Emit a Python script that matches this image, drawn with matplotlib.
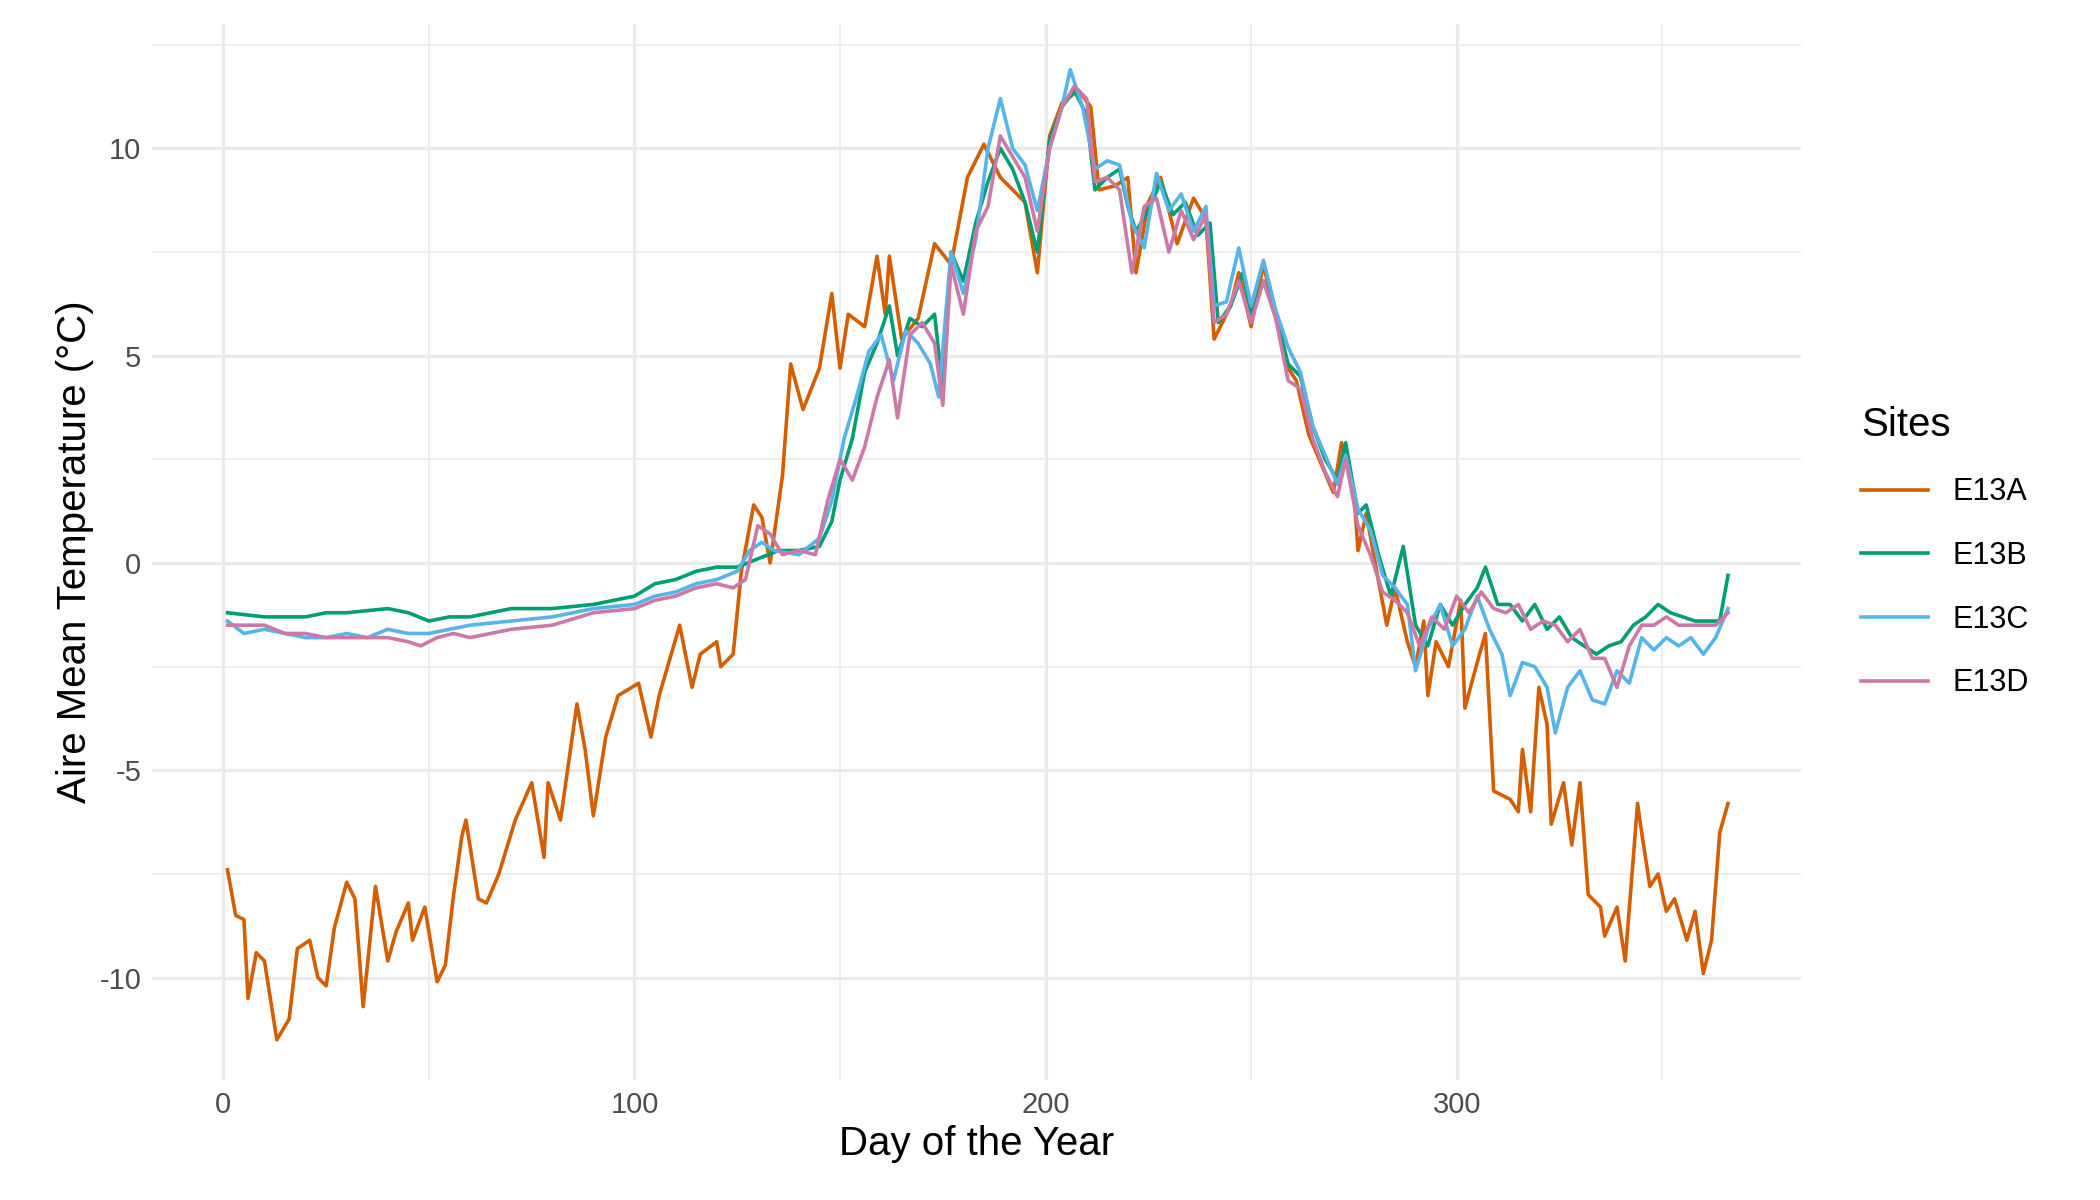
import matplotlib.pyplot as plt
from matplotlib.ticker import MultipleLocator

plt.rcParams['font.family'] = ['Liberation Sans', 'DejaVu Sans']

# data (day of year, mean air temperature)
a_day = [1, 3, 5, 6, 8, 10, 13, 16, 18, 21, 23, 25, 27, 30, 32, 34, 37, 40, 42, 45, 46, 49, 52, 54, 56, 58, 59, 62, 64, 67, 71, 75,
         78, 79, 82, 86, 88, 90, 93, 96, 101, 104, 106, 111, 114, 116, 120, 121, 124, 126, 129, 131, 133, 136, 138, 141, 143,
         145, 148, 150, 152, 156, 159, 161, 162, 165, 169, 173, 177, 181, 185, 189, 195, 198, 201, 204, 208, 211, 213, 217,
         220, 222, 225, 228, 232, 236, 239, 241, 245, 247, 250, 253, 256, 259, 261, 264, 267, 270, 272, 275, 276, 278, 280,
         283, 285, 288, 290, 292, 293, 295, 298, 301, 302, 305, 307, 309, 313, 315, 316, 318, 320, 322, 323, 326, 328, 330,
         332, 335, 336, 339, 341, 344, 345, 347, 349, 351, 353, 356, 358, 360, 362, 364, 366]
a_val = [-7.4, -8.5, -8.6, -10.5, -9.4, -9.6, -11.5, -11.0, -9.3, -9.1, -10.0, -10.2, -8.8, -7.7, -8.1, -10.7, -7.8, -9.6, -8.9,
         -8.2, -9.1, -8.3, -10.1, -9.7, -8.0, -6.6, -6.2, -8.1, -8.2, -7.5, -6.2, -5.3, -7.1, -5.3, -6.2, -3.4, -4.5, -6.1,
         -4.2, -3.2, -2.9, -4.2, -3.2, -1.5, -3.0, -2.2, -1.9, -2.5, -2.2, -0.2, 1.4, 1.1, 0.0, 2.1, 4.8, 3.7, 4.2, 4.7, 6.5,
         4.7, 6.0, 5.7, 7.4, 6.0, 7.4, 5.4, 5.9, 7.7, 7.2, 9.3, 10.1, 9.3, 8.7, 7.0, 10.3, 11.1, 11.4, 11.0, 9.0, 9.1, 9.3,
         7.0, 8.7, 9.3, 7.7, 8.8, 8.3, 5.4, 6.2, 7.0, 5.7, 7.2, 5.9, 4.7, 4.4, 3.1, 2.4, 1.7, 2.9, 1.7, 0.3, 1.2, 0.1, -1.5,
         -0.6, -1.9, -2.5, -1.4, -3.2, -1.9, -2.5, -0.9, -3.5, -2.4, -1.7, -5.5, -5.7, -6.0, -4.5, -6.0, -3.0, -3.9, -6.3,
         -5.3, -6.8, -5.3, -8.0, -8.3, -9.0, -8.3, -9.6, -5.8, -6.5, -7.8, -7.5, -8.4, -8.1, -9.1, -8.4, -9.9, -9.1, -6.5, -5.8]

b_day = [1, 10, 20, 25, 30, 40, 45, 50, 55, 60, 65, 70, 80, 90, 100, 105, 110, 115, 120, 125, 130, 135, 140, 145, 148, 150,
         153, 156, 159, 162, 164, 167, 170, 173, 175, 177, 180, 183, 186, 189, 192, 195, 198, 201, 204, 207, 210, 212, 215,
         218, 220, 222, 225, 228, 231, 234, 237, 240, 242, 245, 248, 250, 253, 256, 259, 262, 265, 268, 271, 273, 276, 278,
         281, 284, 287, 290, 293, 296, 299, 302, 305, 307, 310, 313, 316, 319, 322, 325, 328, 331, 334, 337, 340, 343, 346,
         349, 352, 355, 358, 361, 364, 366]
b_val = [-1.2, -1.3, -1.3, -1.2, -1.2, -1.1, -1.2, -1.4, -1.3, -1.3, -1.2, -1.1, -1.1, -1.0, -0.8, -0.5, -0.4, -0.2, -0.1,
         -0.1, 0.1, 0.3, 0.3, 0.4, 1.0, 2.0, 3.0, 4.6, 5.3, 6.2, 5.0, 5.9, 5.7, 6.0, 4.2, 7.5, 6.8, 8.2, 9.2, 10.0, 9.5, 8.7,
         7.5, 10.2, 11.0, 11.4, 10.8, 9.0, 9.3, 9.5, 8.6, 8.0, 8.5, 9.2, 8.4, 8.7, 7.9, 8.2, 5.8, 6.2, 7.0, 6.0, 6.8, 6.0,
         4.8, 4.5, 3.3, 2.5, 2.0, 2.9, 1.2, 1.4, 0.2, -0.8, 0.4, -1.5, -2.0, -1.0, -1.5, -1.0, -0.6, -0.1, -1.0, -1.0, -1.4,
         -1.0, -1.6, -1.3, -1.8, -2.0, -2.2, -2.0, -1.9, -1.5, -1.3, -1.0, -1.2, -1.3, -1.4, -1.4, -1.4, -0.3]

c_day = [1, 5, 10, 15, 20, 25, 30, 35, 40, 45, 50, 55, 60, 70, 80, 90, 100, 105, 110, 115, 120, 125, 128, 131, 134, 140,
         145, 148, 151, 154, 157, 160, 163, 166, 169, 172, 174, 177, 180, 183, 186, 189, 192, 195, 198, 201, 204, 206, 209,
         212, 215, 218, 221, 224, 227, 230, 233, 236, 239, 241, 244, 247, 250, 253, 256, 259, 262, 265, 268, 271, 273, 276,
         279, 282, 285, 288, 290, 293, 296, 299, 302, 305, 308, 311, 313, 316, 319, 322, 324, 327, 330, 333, 336, 339, 342,
         345, 348, 351, 354, 357, 360, 363, 366]
c_val = [-1.4, -1.7, -1.6, -1.7, -1.8, -1.8, -1.7, -1.8, -1.6, -1.7, -1.7, -1.6, -1.5, -1.4, -1.3, -1.1, -1.0, -0.8, -0.7,
         -0.5, -0.4, -0.2, 0.3, 0.5, 0.3, 0.2, 0.6, 1.5, 3.0, 4.0, 5.1, 5.5, 4.4, 5.6, 5.3, 4.8, 4.0, 7.5, 6.5, 7.8, 10.0,
         11.2, 10.0, 9.6, 8.5, 10.0, 11.0, 11.9, 11.0, 9.5, 9.7, 9.6, 8.2, 7.6, 9.4, 8.5, 8.9, 8.0, 8.6, 6.2, 6.3, 7.6, 6.2,
         7.3, 6.1, 5.2, 4.6, 3.3, 2.6, 1.9, 2.6, 1.3, 0.8, -0.3, -0.6, -1.0, -2.6, -1.6, -1.0, -2.0, -1.6, -0.8, -1.6, -2.2,
         -3.2, -2.4, -2.5, -3.0, -4.1, -3.0, -2.6, -3.3, -3.4, -2.6, -2.9, -1.8, -2.1, -1.8, -2.0, -1.8, -2.2, -1.8, -1.1]

d_day = [1, 10, 15, 20, 25, 30, 35, 40, 45, 48, 52, 56, 60, 65, 70, 80, 90, 100, 105, 110, 115, 120, 124, 127, 130, 133,
         136, 140, 144, 147, 150, 153, 156, 159, 162, 164, 167, 170, 173, 175, 177, 180, 183, 186, 189, 192, 195, 198, 201,
         204, 207, 210, 212, 215, 218, 221, 224, 227, 230, 233, 236, 239, 241, 244, 247, 250, 253, 256, 259, 262, 265, 268,
         271, 273, 276, 279, 282, 285, 288, 291, 294, 297, 300, 303, 306, 309, 312, 315, 318, 321, 324, 327, 330, 333, 336,
         339, 342, 345, 348, 351, 354, 357, 360, 363, 366]
d_val = [-1.5, -1.5, -1.7, -1.7, -1.8, -1.8, -1.8, -1.8, -1.9, -2.0, -1.8, -1.7, -1.8, -1.7, -1.6, -1.5, -1.2, -1.1, -0.9,
         -0.8, -0.6, -0.5, -0.6, -0.4, 0.9, 0.7, 0.2, 0.3, 0.2, 1.5, 2.5, 2.0, 2.8, 4.0, 4.9, 3.5, 5.5, 5.8, 5.3, 3.8, 7.2,
         6.0, 8.0, 8.6, 10.3, 9.8, 9.3, 8.0, 10.0, 11.0, 11.5, 11.2, 9.2, 9.3, 9.0, 7.0, 8.6, 8.8, 7.5, 8.5, 7.8, 8.4, 5.8,
         6.0, 6.8, 5.8, 6.8, 5.9, 4.4, 4.2, 3.0, 2.2, 1.6, 2.5, 0.9, 0.2, -0.7, -0.9, -1.2, -2.0, -1.3, -1.6, -0.8, -1.2,
         -0.7, -1.1, -1.2, -1.0, -1.6, -1.4, -1.5, -1.9, -1.6, -2.3, -2.3, -3.0, -2.0, -1.5, -1.5, -1.3, -1.5, -1.5, -1.5,
         -1.5, -1.2]

sites = ["E13A", "E13B", "E13C", "E13D"]
colors = ["#D55E00", "#009E73", "#56B4E9", "#CC79A7"]
series = [(a_day, a_val), (b_day, b_val), (c_day, c_val), (d_day, d_val)]

fig = plt.figure(figsize=(21, 12), dpi=100)
ax = fig.add_axes([0.0725, 0.10, 0.785, 0.88])

for name, col, (x, y) in zip(sites, colors, series):
    ax.plot(x, y, color=col, lw=2.6, label=name)

ax.set_xlim(-17.3, 383.7)
ax.set_ylim(-12.47, 13.0)
ax.xaxis.set_major_locator(MultipleLocator(100))
ax.xaxis.set_minor_locator(MultipleLocator(50))
ax.yaxis.set_major_locator(MultipleLocator(5))
ax.yaxis.set_minor_locator(MultipleLocator(2.5))
ax.grid(which="major", color="#EBEBEB", lw=2.4)
ax.grid(which="minor", color="#EBEBEB", lw=1.2)
ax.set_axisbelow(True)
for s in ax.spines.values():
    s.set_visible(False)
ax.tick_params(which="both", length=0, labelsize=21, labelcolor="#4D4D4D", pad=8)
ax.set_yticks([-10, -5, 0, 5, 10])
ax.set_yticklabels(["-10", "-5", "0", "5", "10"])
ax.set_xlabel("Day of the Year", fontsize=29)
ax.set_ylabel("Aire Mean Temperature (°C)", fontsize=29)

leg = ax.legend(title="Sites", loc="center left", bbox_to_anchor=(1.02, 0.5), frameon=False,
                fontsize=22, title_fontsize=29, handlelength=2.2, labelspacing=1.1)
leg._legend_box.align = "left"

fig.savefig("out.png")
